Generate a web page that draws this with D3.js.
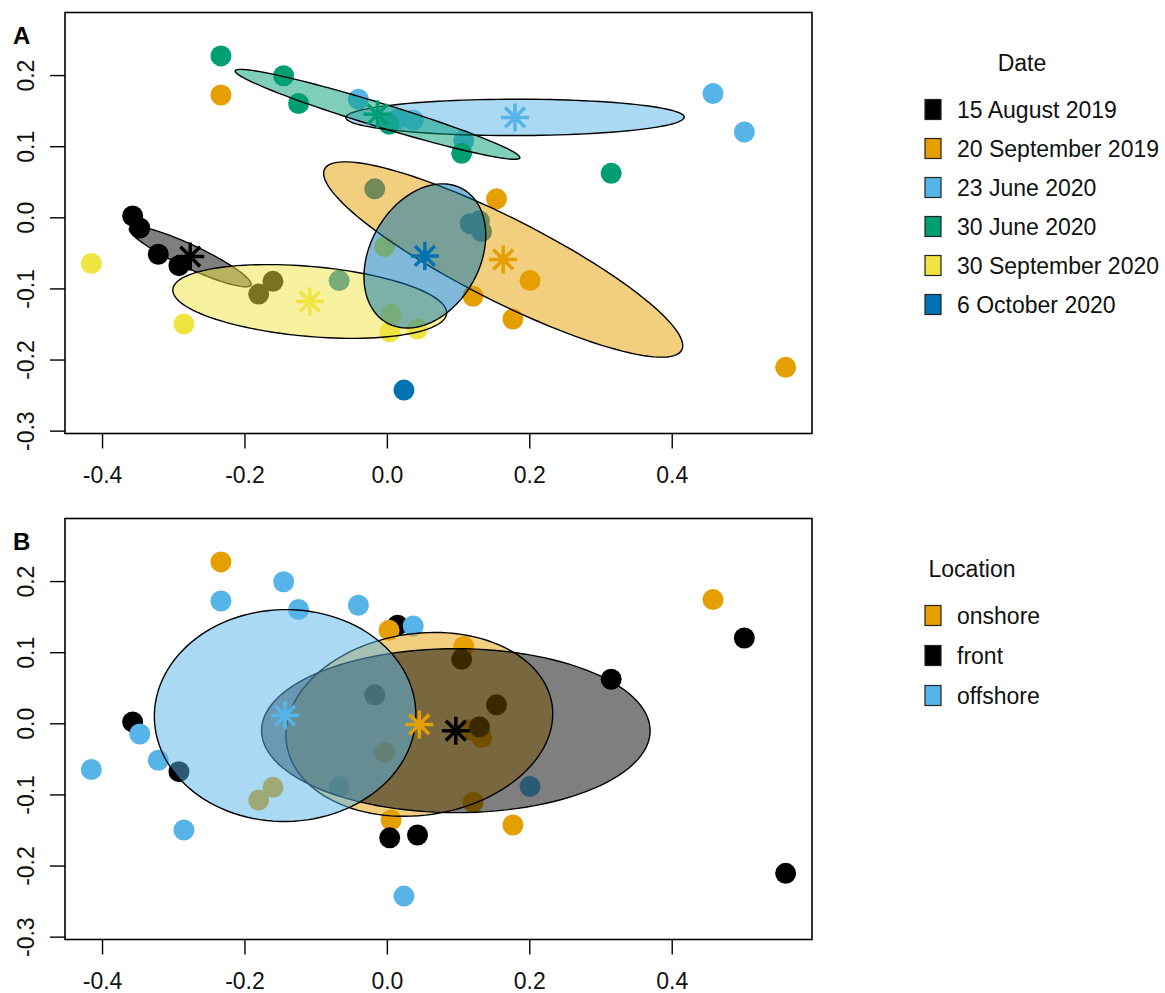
<!DOCTYPE html>
<html>
<head>
<meta charset="utf-8">
<script src="https://cdn.jsdelivr.net/npm/d3@7"></script>
<style>
  body { margin: 0; background: #fff; }
  svg  { display: block; font-family: "Liberation Sans", Arial, Helvetica, sans-serif; }
</style>
</head>
<body>
<svg id="chart" width="1165" height="993"></svg>
<script>
// ─── Data: NMDS sample scores ────────────────────────────────────────────────
const nmds1 = [
  -0.180, -0.160, -0.357, -0.292, -0.347, -0.321,   // 15 Aug 2019
   0.121,  0.177,  0.560,  0.154, -0.233,  0.201,   // 20 Sep 2019
   0.108,  0.458,  0.015,  0.502, -0.040,  0.037,   // 23 Jun 2020
  -0.233,  0.003,  0.105,  0.315, -0.145, -0.124,   // 30 Jun 2020
  -0.003,  0.006,  0.004,  0.043, -0.415, -0.285,   // 30 Sep 2020
   0.117,  0.133, -0.017,  0.130, -0.067,  0.024    // 6 Oct 2020
];
const nmds2 = [
  -0.108, -0.090,  0.002, -0.068, -0.015, -0.052,
  -0.111, -0.143, -0.211,  0.026,  0.172, -0.089,
   0.108,  0.174,  0.138,  0.120,  0.166,  0.137,
   0.227,  0.131,  0.090,  0.062,  0.199,  0.160,
  -0.041, -0.136, -0.161, -0.157, -0.065, -0.150,
  -0.009, -0.020,  0.040, -0.005, -0.089, -0.243
];
const sampleDate = [
  '15 August 2019', '15 August 2019', '15 August 2019', '15 August 2019', '15 August 2019', '15 August 2019',
  '20 September 2019', '20 September 2019', '20 September 2019', '20 September 2019', '20 September 2019', '20 September 2019',
  '23 June 2020', '23 June 2020', '23 June 2020', '23 June 2020', '23 June 2020', '23 June 2020',
  '30 June 2020', '30 June 2020', '30 June 2020', '30 June 2020', '30 June 2020', '30 June 2020',
  '30 September 2020', '30 September 2020', '30 September 2020', '30 September 2020', '30 September 2020', '30 September 2020',
  '6 October 2020', '6 October 2020', '6 October 2020', '6 October 2020', '6 October 2020', '6 October 2020'
];
const sampleLocation = [
  'onshore', 'onshore', 'front', 'front', 'offshore', 'offshore',
  'onshore', 'onshore', 'front', 'front', 'offshore', 'offshore',
  'onshore', 'onshore', 'front', 'front', 'offshore', 'offshore',
  'onshore', 'onshore', 'front', 'front', 'offshore', 'offshore',
  'onshore', 'onshore', 'front', 'front', 'offshore', 'offshore',
  'onshore', 'onshore', 'front', 'front', 'offshore', 'offshore'
];

const dateLevels     = ['15 August 2019', '20 September 2019', '23 June 2020', '30 June 2020', '30 September 2020', '6 October 2020'];
const dateColors     = ['#000000', '#E69F00', '#56B4E9', '#009E73', '#F0E442', '#0072B2'];
const locationLevels = ['onshore', 'front', 'offshore'];
const locationColors = ['#E69F00', '#000000', '#56B4E9'];

const xTicks  = [-0.4, -0.2, 0.0, 0.2, 0.4];
const yTicks  = [-0.3, -0.2, -0.1, 0.0, 0.1, 0.2];
const xDomain = [-0.452, 0.597];
const yDomain = [-0.304, 0.288];

// ─── Layout ──────────────────────────────────────────────────────────────────
const PLOT_L = 65, PLOT_R = 812, PLOT_H = 421;
const FONT = 23;
const fmt = d3.formatLocale({ decimal: '.', thousands: ',', grouping: [3], currency: ['', ''], minus: '-' }).format('.1f');

const svg = d3.select('#chart');
const x = d3.scaleLinear().domain(xDomain).range([PLOT_L, PLOT_R]);

// 1-sd ellipse of a group (as vegan::ordiellipse kind = "sd")
function sdEllipse(px, py, steps = 120) {
  const n = px.length;
  const mx = d3.mean(px), my = d3.mean(py);
  let sxx = 0, syy = 0, sxy = 0;
  for (let i = 0; i < n; i++) {
    const dx = px[i] - mx, dy = py[i] - my;
    sxx += dx * dx; syy += dy * dy; sxy += dx * dy;
  }
  sxx /= n - 1; syy /= n - 1; sxy /= n - 1;
  const tr = sxx + syy, det = sxx * syy - sxy * sxy;
  const disc = Math.sqrt(Math.max(0, tr * tr / 4 - det));
  const a = Math.sqrt(tr / 2 + disc), b = Math.sqrt(Math.max(0, tr / 2 - disc));
  const ang = 0.5 * Math.atan2(2 * sxy, sxx - syy);
  const ca = Math.cos(ang), sa = Math.sin(ang);
  return d3.range(steps).map(k => {
    const t = 2 * Math.PI * k / steps;
    const u = a * Math.cos(t), v = b * Math.sin(t);
    return [mx + u * ca - v * sa, my + u * sa + v * ca];
  });
}

function drawPanel(top, letter, groupOf, levels, colors, legendTitle, legendTitleX, legendStep) {
  const g = svg.append('g');
  const y = d3.scaleLinear().domain(yDomain).range([top + PLOT_H, top]);
  const color = d3.scaleOrdinal().domain(levels).range(colors);

  // points
  g.append('g').selectAll('circle')
    .data(d3.range(nmds1.length))
    .join('circle')
    .attr('cx', i => x(nmds1[i]))
    .attr('cy', i => y(nmds2[i]))
    .attr('r', 10.5)
    .attr('fill', i => color(groupOf[i]));

  // sd ellipses, translucent
  const line = d3.line().x(d => x(d[0])).y(d => y(d[1]));
  const centroids = [];
  levels.forEach(lv => {
    const idx = d3.range(nmds1.length).filter(i => groupOf[i] === lv);
    const px = idx.map(i => nmds1[i]), py = idx.map(i => nmds2[i]);
    g.append('path')
      .attr('d', line(sdEllipse(px, py)) + 'Z')
      .attr('fill', color(lv))
      .attr('fill-opacity', 0.5)
      .attr('stroke', '#000')
      .attr('stroke-width', 1.4);
    centroids.push({ lv, cx: d3.mean(px), cy: d3.mean(py) });
  });

  // centroid asterisks
  const R = 14;
  g.append('g').selectAll('path')
    .data(centroids)
    .join('path')
    .attr('d', d => {
      const X = x(d.cx), Y = y(d.cy);
      return [0, 45, 90, 135].map(deg => {
        const r = deg * Math.PI / 180, dx = R * Math.cos(r), dy = R * Math.sin(r);
        return `M${X - dx},${Y - dy}L${X + dx},${Y + dy}`;
      }).join('');
    })
    .attr('stroke', d => color(d.lv))
    .attr('stroke-width', 3.5)
    .attr('fill', 'none');

  // axes
  const ax = g.append('g')
    .attr('transform', `translate(0,${top + PLOT_H})`)
    .call(d3.axisBottom(x).tickValues(xTicks).tickFormat(fmt).tickSize(15).tickPadding(18));
  const ay = g.append('g')
    .attr('transform', `translate(${PLOT_L},0)`)
    .call(d3.axisLeft(y).tickValues(yTicks).tickFormat(fmt).tickSize(15));
  [ax, ay].forEach(a => {
    a.select('.domain').remove();
    a.selectAll('line').attr('stroke', '#000').attr('stroke-width', 1.4);
    a.selectAll('text').attr('fill', '#111').style('font-size', FONT + 'px')
      .style('font-family', '"Liberation Sans", Arial, sans-serif');
  });
  ay.selectAll('text')
    .attr('transform', 'rotate(-90)')
    .attr('x', 0).attr('y', -39).attr('dy', '0.35em')
    .style('text-anchor', 'middle');

  // box
  g.append('rect')
    .attr('x', PLOT_L).attr('y', top)
    .attr('width', PLOT_R - PLOT_L).attr('height', PLOT_H)
    .attr('fill', 'none').attr('stroke', '#000').attr('stroke-width', 1.6);

  // panel letter
  g.append('text')
    .attr('x', 13).attr('y', top + 31)
    .style('font-size', '24px').style('font-weight', 'bold')
    .text(letter);

  // legend
  const lg = g.append('g');
  lg.append('text')
    .attr('x', legendTitleX).attr('y', top + 50).attr('dy', '0.35em')
    .attr('text-anchor', 'middle')
    .style('font-size', FONT + 'px').attr('fill', '#111')
    .text(legendTitle);
  const items = lg.selectAll('g.item')
    .data(levels)
    .join('g')
    .attr('class', 'item')
    .attr('transform', (d, i) => `translate(0,${top + 97 + i * legendStep})`);
  items.append('rect')
    .attr('x', 925).attr('y', -10).attr('width', 16).attr('height', 20)
    .attr('fill', d => color(d)).attr('stroke', '#222').attr('stroke-width', 1.2);
  items.append('text')
    .attr('x', 957).attr('dy', '0.35em')
    .style('font-size', FONT + 'px').attr('fill', '#111')
    .text(d => d);
}

drawPanel(12.5, 'A', sampleDate, dateLevels, dateColors, 'Date', 1022, 39);
drawPanel(518.5, 'B', sampleLocation, locationLevels, locationColors, 'Location', 972, 40);
</script>
</body>
</html>
